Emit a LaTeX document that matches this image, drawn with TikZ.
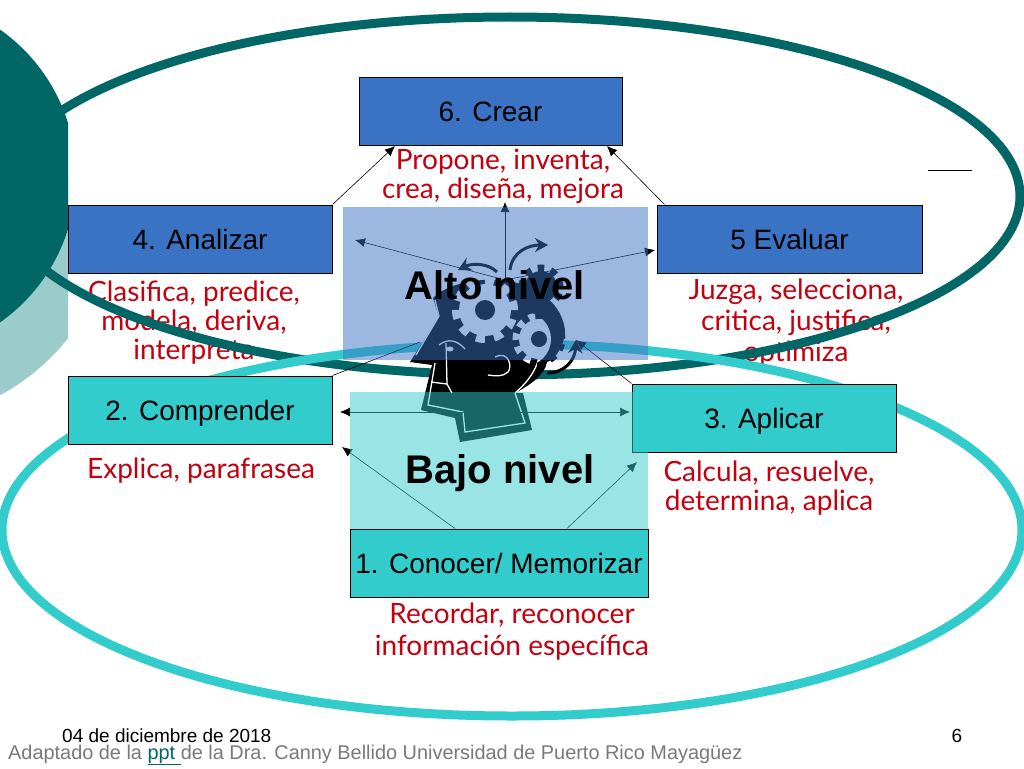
\documentclass[tikz,border=0pt]{standalone}
\usepackage{fontspec}
\usetikzlibrary{arrows.meta}
\setmainfont{Liberation Sans}
\newfontfamily\handfont{Lato}
\definecolor{darkteal}{HTML}{006666}
\definecolor{lightteal}{HTML}{9CCBCC}
\definecolor{boxblue}{HTML}{3A72C4}
\definecolor{boxcyan}{HTML}{33CCCC}
\definecolor{handred}{HTML}{C4000F}
\tikzset{
  boxstyle/.style={draw=black, line width=1pt, minimum height=68pt, inner sep=0pt, text height=20.5pt, text depth=0pt, font=\fontsize{28}{30}\selectfont},
  handstyle/.style={handred, align=center, inner sep=0pt, font=\handfont\fontsize{28}{29}\selectfont},
  levelstyle/.style={inner sep=0pt, font=\bfseries\fontsize{40}{44}\selectfont},
  linkstyle/.style={-{Latex[length=10pt,width=9pt]}, black, line width=0.6pt},
  curlstyle/.style={-{Stealth[length=13pt,width=14pt]}, black, line width=3pt},
  veilstyle/.style={minimum height=153pt, inner sep=0pt, fill opacity=0.5},
  teethstyle/.style={line width=8pt, dash pattern=on 9pt off 9.2pt}
}
\begin{document}
\begin{tikzpicture}[x=1pt,y=-1pt]
  \useasboundingbox (0,0) rectangle (1024,768);

  % left circles
  \begin{scope}
    \clip (0,176) rectangle (68,768);
    \fill [lightteal] (-103,203) circle (218pt);
  \end{scope}
  \begin{scope}
    \clip (0,0) rectangle (68,768);
    \fill [darkteal] (-103,176) circle (179pt);
  \end{scope}

  % red texts
  \node [handstyle] (CrearText) at (503,176) {Propone, inventa,\\crea, diseña, mejora};
  \node [handstyle] (AnalizarText) at (194,323) {Clasifica, predice,\\modela, deriva,\\interpreta};
  \node [handstyle] (EvaluarText) at (796,323) {Juzga, selecciona,\\[2pt]critica, justifica,\\[2pt]optimiza};
  \node [handstyle] (ComprenderText) at (201,471) {Explica, parafrasea};
  \node [handstyle] (AplicarText) at (769,488) {Calcula, resuelve,\\determina, aplica};
  \node [handstyle] (ConocerText) at (512,632) {Recordar, reconocer\\[3pt]información específica};

  % the two ellipses
  \draw [darkteal, line width=9pt] (510,196) ellipse [x radius=510pt, y radius=179pt];
  \draw [boxcyan, line width=9pt] (512,530) ellipse [x radius=510pt, y radius=186pt];

  % boxes
  \node [boxstyle, fill=boxblue, minimum width=263pt] (Crear) at (490.5,111) {6. Crear};
  \node [boxstyle, fill=boxblue, minimum width=264pt] (Analizar) at (200,239) {4. Analizar};
  \node [boxstyle, fill=boxblue, minimum width=265pt] (Evaluar) at (789.5,239) {5 Evaluar};
  \node [boxstyle, fill=boxcyan, minimum width=264pt] (Comprender) at (200,410) {2. Comprender};
  \node [boxstyle, fill=boxcyan, minimum width=264pt] (Aplicar) at (764,418) {3. Aplicar};
  \node [boxstyle, fill=boxcyan, minimum width=298pt] (Conocer) at (499,563) {1. Conocer/ Memorizar};

  % head
  \fill [black] (433,298) .. controls (445,285) and (475,278) .. (500,280)
    .. controls (525,282) and (560,295) .. (565,330)
    .. controls (565,345) and (555,360) .. (547,362)
    .. controls (545,375) and (530,385) .. (515,393)
    -- (523,393) -- (532,430) -- (460,442) -- (455,418) -- (421,410) -- (432,365)
    -- (410,362) -- (439,317) -- cycle;
  \draw [white, line width=1.3pt] (435,300) -- (439,316) -- (416,355);
  \draw [white, line width=1.3pt] (435,363) -- (428,405) -- (463,412) -- (465,432) -- (525,423) -- (515,393);
  \draw [white, line width=1.3pt] (431,382) -- (447,384) -- (452,393);
  \draw [white, line width=1.3pt] (446,343) -- (447,384);
  \draw [white, line width=1.3pt] (515,393) .. controls (530,380) and (535,370) .. (538,361);
  \draw [white, line width=1.3pt] (439,345) .. controls (448,338) and (457,340) .. (465,349);
  \fill [white] (450,349) ellipse [x radius=3.5pt, y radius=2.5pt];
  \draw [white, line width=1.3pt] (495,357) .. controls (510,350) and (512,368) .. (508,372) .. controls (503,377) and (495,376) .. (488,375);

  % gears
  \fill [white] (485,310) circle (26pt);
  \draw [white, teethstyle] (485,310) circle (29pt);
  \fill [black] (485,310) circle (10pt);
  \draw [black, line width=7pt, dash pattern=on 6.5pt off 6.8pt] (541,287) circle (19pt);
  \fill [black] (541,287) circle (16pt);
  \draw [black, line width=7pt, dash pattern=on 6.5pt off 6.8pt] (539,339) circle (23pt);
  \fill [black] (539,339) circle (20pt);
  \begin{scope}
    \clip (524,339) circle (27pt);
    \fill [white] (539,339) circle (20pt);
    \draw [white, line width=7pt, dash pattern=on 6.5pt off 6.8pt] (539,339) circle (23pt);
  \end{scope}
  \fill [black] (539,339) circle (8pt);

  % connectors
  \coordinate (Hub) at (505,280);
  \coordinate (CrearLeft) at (395,146);
  \coordinate (CrearRight) at (607,146);
  \coordinate (HubTop) at (505,202);
  \coordinate (HubLeft) at (355,240);
  \coordinate (HubRight) at (655,250);
  \coordinate (LowLeft) at (340,412);
  \coordinate (LowRight) at (630,412);
  \coordinate (ConocerLeft) at (342,447);
  \coordinate (ConocerRight) at (637,462);
  \coordinate (HeadLeft) at (420,342);
  \coordinate (HeadRight) at (576,340);
  \draw [linkstyle] (Analizar.north east) -- (CrearLeft);
  \draw [linkstyle] ([xshift=8pt]Evaluar.north west) -- (CrearRight);
  \draw [linkstyle] (Hub) -- (HubTop);
  \draw [linkstyle] (Hub) -- (HubLeft);
  \draw [linkstyle] (Hub) -- (HubRight);
  \draw [linkstyle, {Latex[length=10pt,width=9pt]}-{Latex[length=10pt,width=9pt]}] (LowLeft) -- (LowRight);
  \draw [linkstyle] ([xshift=-44pt]Conocer.north) -- (ConocerLeft);
  \draw [linkstyle] ([xshift=68pt]Conocer.north) -- (ConocerRight);
  \draw [black, line width=0.6pt] (Comprender.north east) -- (HeadLeft);
  \draw [linkstyle] (Aplicar.north west) -- (HeadRight);
  \draw [curlstyle] (497,272) .. controls (488,263) and (472,263) .. (458,270);
  \draw [curlstyle] (510,270) .. controls (512,252) and (528,245) .. (548,245);
  \draw [curlstyle] (547,373) .. controls (565,373) and (575,360) .. (576,340);

  % levels
  \node [veilstyle, fill=boxblue, minimum width=305pt] (AltoVeil) at (495.5,283.5) {};
  \node [veilstyle, fill=boxcyan, minimum width=298pt, minimum height=137pt] (BajoVeil) at (499,460.5) {};
  \node [levelstyle] (Alto) at (495,285) {Alto nivel};
  \node [levelstyle] (Bajo) at (500,473) {Bajo nivel};

  % small line
  \coordinate (DashLeft) at (928,170);
  \coordinate (DashRight) at (972,170);
  \draw [black, line width=1pt] (DashLeft) -- (DashRight);

  % footer
  \node [anchor=base west, inner sep=0pt, font=\fontsize{19}{20}\selectfont] (Date) at (62,742) {04 de diciembre de 2018};
  \node [anchor=base, inner sep=0pt, font=\fontsize{19}{20}\selectfont] (Page) at (957,742) {6};
  \node [anchor=base west, inner sep=0pt, gray!95!black, font=\fontsize{19.9}{21}\selectfont] (Credit) at (8,759) {Adaptado de la \textcolor{darkteal}{\underline{ppt }}de la Dra. Canny Bellido Universidad de Puerto Rico Mayagüez};
\end{tikzpicture}
\end{document}
